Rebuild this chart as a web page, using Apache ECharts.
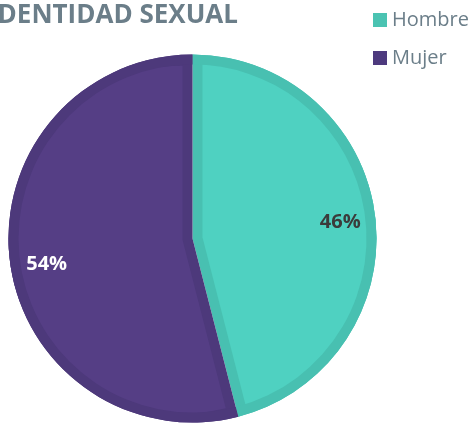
<!DOCTYPE html>
<html>
<head>
<meta charset="utf-8">
<script src="https://cdn.jsdelivr.net/npm/echarts@6/dist/echarts.min.js"></script>
<style>
    html, body { margin: 0; padding: 0; background: #fff; }
    #chart { width: 473px; height: 423px; }
</style>
</head>
<body>
<div id="chart"></div>
<script>
// datos
const categories = ['Hombre', 'Mujer'];
const values = [46, 54];

// colores: relleno claro y borde oscuro de cada porcion
const lightColors = ['#4fd1c1', '#553e85'];
const darkColors = ['#48c0b1', '#4d397b'];
const legendColors = ['#4bc3b2', '#4d3a7e'];
const labelColors = ['#3b3b3b', '#ffffff'];
const labelOffsets = [[-2, 3], [4, 7]];

const cx = 192.5, cy = 238.5, R = 184, band = 10;

const total = values.reduce((a, b) => a + b, 0);

// desplazamiento del vertice de cada porcion interior (efecto borde interno)
function innerCenter(i) {
    let start = 0;
    for (let k = 0; k < i; k++) start += values[k];
    const a0 = 90 - start / total * 360;
    const span = values[i] / total * 360;
    const mid = (a0 - span / 2) * Math.PI / 180;
    const d = band / Math.sin(span / 2 * Math.PI / 180);
    return [cx + d * Math.cos(mid), cy - d * Math.sin(mid)];
}

const chart = echarts.init(document.getElementById('chart'));

const base = {
    type: 'pie',
    startAngle: 90,
    clockwise: true,
    silent: true,
    label: { show: false },
    labelLine: { show: false },
    emphasis: { disabled: true }
};

const series = [];
// fondo oscuro
series.push(Object.assign({}, base, {
    center: [cx, cy],
    radius: [0, R],
    data: categories.map((c, i) => ({ name: c, value: values[i], itemStyle: { color: darkColors[i], borderWidth: 0 } }))
}));
// porciones claras interiores
categories.forEach((c, i) => {
    series.push(Object.assign({}, base, {
        center: innerCenter(i),
        radius: [0, R - band],
        data: categories.map((n, j) => ({
            name: n, value: values[j],
            itemStyle: { color: j === i ? lightColors[j] : 'rgba(0,0,0,0)', borderWidth: 0 }
        }))
    }));
});
// anillo exterior oscuro
series.push(Object.assign({}, base, {
    center: [cx, cy],
    radius: [R - band, R],
    data: categories.map((c, i) => ({ name: c, value: values[i], itemStyle: { color: darkColors[i], borderWidth: 0 } }))
}));
// etiquetas
series.push(Object.assign({}, base, {
    center: [cx, cy],
    radius: [112, R],
    label: {
        show: true,
        position: 'inside',
        formatter: '{d}%',
        fontFamily: 'Open Sans',
        fontWeight: 'bold',
        fontSize: 20
    },
    data: categories.map((c, i) => ({
        name: c, value: values[i],
        itemStyle: { color: 'rgba(0,0,0,0)', borderWidth: 0 },
        label: { color: labelColors[i], offset: labelOffsets[i] }
    }))
}));

const option = {
    animation: false,
    title: {
        text: 'IDENTIDAD SEXUAL',
        left: -11,
        top: 3,
        padding: 0,
        textStyle: {
            fontFamily: 'Open Sans',
            fontWeight: 'bold',
            fontSize: 26,
            color: '#6b7e89'
        }
    },
    legend: {
        orient: 'vertical',
        left: 373,
        top: 10,
        padding: 0,
        icon: 'rect',
        itemWidth: 14,
        itemHeight: 14,
        itemGap: 18,
        textStyle: {
            fontFamily: 'Open Sans',
            fontSize: 20,
            color: '#6b7e89',
            padding: [0, 0, 0, 0]
        },
        data: categories.map((c, i) => ({ name: c, itemStyle: { color: legendColors[i] } }))
    },
    series: series
};

chart.setOption(option);
</script>
</body>
</html>
